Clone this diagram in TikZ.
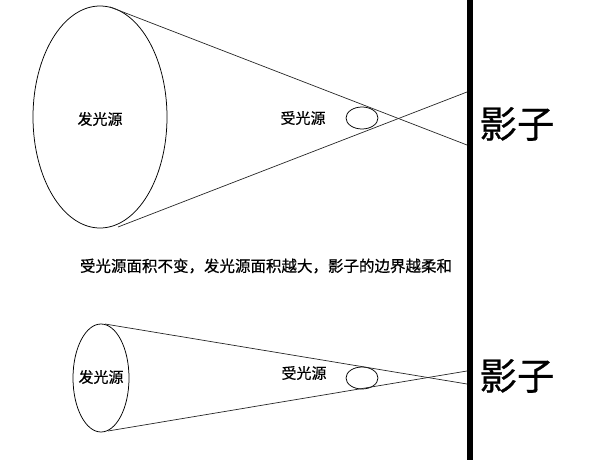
\documentclass[tikz,border=0pt]{standalone}
\usepackage{fontspec}
\setmainfont{Noto Sans CJK SC}[AutoFakeBold=0.6]
\usetikzlibrary{shapes.geometric}
\begin{document}
\begin{tikzpicture}[x=1pt,y=-1pt,
  ray/.style={draw=black!85,line width=0.7pt},
  src/.style={draw=black,line width=0.75pt,ellipse,inner sep=0pt},
  lbl/.style={font=\fontsize{15}{15}\selectfont\bfseries},
  caplbl/.style={font=\fontsize{15.5}{15.5}\selectfont\bfseries},
  shadow/.style={font=\fontsize{37.5}{37.5}\selectfont\bfseries}]
\useasboundingbox (0,0) rectangle (600,460);
% top
\node[src,minimum width=134,minimum height=222] (bigsrc) at (100,117) {};
\node[lbl] (biglbl) at (100,119) {发光源};
\node[src,minimum width=32,minimum height=22] (recv1) at (362,118) {};
\node[lbl] (recv1lbl) at (303,118) {受光源};
\coordinate (t1a) at (110,7);
\coordinate (t1b) at (467,145);
\coordinate (b1a) at (118,227);
\coordinate (b1b) at (467,92);
\draw[ray] (t1a) -- (t1b);
\draw[ray] (b1a) -- (b1b);
% caption
\node[caplbl] (cap) at (266,266) {受光源面积不变，发光源面积越大，影子的边界越柔和};
% bottom
\node[src,minimum width=56,minimum height=108] (smallsrc) at (101,378) {};
\node[lbl] (smalllbl) at (101,377) {发光源};
\node[src,minimum width=32,minimum height=22] (recv2) at (362,378) {};
\node[lbl] (recv2lbl) at (304,373) {受光源};
\coordinate (t2a) at (105,324);
\coordinate (t2b) at (467,384);
\coordinate (b2a) at (108,431);
\coordinate (b2b) at (467,371);
\draw[ray] (t2a) -- (t2b);
\draw[ray] (b2a) -- (b2b);
% wall
\coordinate (wtop) at (470,0);
\coordinate (wbot) at (470,460);
\draw[line width=6pt] (wtop) -- (wbot);
\node[shadow] (sh1) at (517,124) {影子};
\node[shadow] (sh2) at (517,376) {影子};
\end{tikzpicture}
\end{document}
